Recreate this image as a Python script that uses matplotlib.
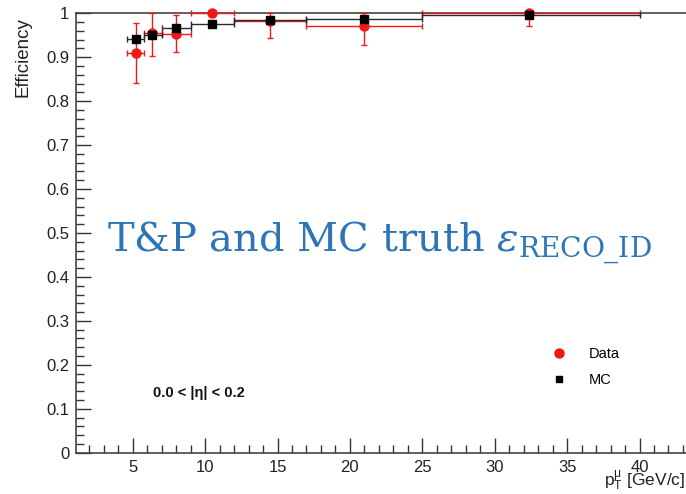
import numpy as np
import matplotlib
matplotlib.use("Agg")
import matplotlib.pyplot as plt
from matplotlib.lines import Line2D
from matplotlib.ticker import MultipleLocator, FormatStrFormatter

plt.rcParams['font.family'] = ['Liberation Sans', 'DejaVu Sans']

# measured efficiency vs muon pT
pt = [5.2, 6.35, 8.0, 10.5, 14.5, 21.0, 32.4]
bin_lo = [4.6, 5.8, 7.0, 9.0, 12.0, 17.0, 25.0]
bin_hi = [5.8, 7.0, 9.0, 12.0, 17.0, 25.0, 40.0]

data_eff = [0.909, 0.955, 0.954, 1.0, 0.982, 0.971, 1.0]
data_err_lo = [0.067, 0.052, 0.041, 0.0, 0.039, 0.043, 0.030]
data_err_hi = [0.068, 0.045, 0.041, 0.0, 0.018, 0.029, 0.0]

mc_eff = [0.941, 0.951, 0.967, 0.976, 0.985, 0.988, 0.995]
mc_err = [0.004, 0.004, 0.003, 0.003, 0.003, 0.003, 0.003]

x_ticks = [5, 10, 15, 20, 25, 30, 35, 40]

RED = '#f01818'

pt = np.array(pt)
xerr = [pt - np.array(bin_lo), np.array(bin_hi) - pt]

fig = plt.figure(figsize=(6.86, 4.94), dpi=100)
x_lo, x_hi = 1.1, 45.0
px_per_unit = 14.48
left_px = 60.3 + x_lo * px_per_unit
right_px = 60.3 + x_hi * px_per_unit
ax = fig.add_axes([left_px / 686, 0.0836, (right_px - left_px) / 686, 0.9731 - 0.0836])

def no_clip(container):
    for part in container.lines:
        if part is None:
            continue
        if isinstance(part, tuple):
            for p in part:
                p.set_clip_on(False)
        else:
            part.set_clip_on(False)

d = ax.errorbar(pt, data_eff, xerr=xerr, yerr=[data_err_lo, data_err_hi],
                fmt='o', color=RED, ms=6.5, elinewidth=1.0, capsize=2.5,
                capthick=1.0, zorder=3)
no_clip(d)
m = ax.errorbar(pt, mc_eff, xerr=xerr, yerr=mc_err,
                fmt='s', color='black', ecolor='#2a2a2a', ms=5.5, elinewidth=1.0,
                capsize=2.5, capthick=1.0, zorder=4)
no_clip(m)

ax.set_xlim(x_lo, x_hi)
ax.set_ylim(0, 1)
ax.set_xticks(x_ticks)
ax.xaxis.set_minor_locator(MultipleLocator(1))
ax.yaxis.set_major_locator(MultipleLocator(0.1))
ax.yaxis.set_minor_locator(MultipleLocator(0.02))
ax.yaxis.set_major_formatter(FormatStrFormatter('%g'))
ax.tick_params(which='both', direction='in', colors='#333333', labelcolor='#222222',
               width=1.0, labelsize=12)
ax.tick_params(which='major', length=11)
ax.tick_params(which='minor', length=6)
ax.tick_params(axis='x', pad=5.5)
ax.tick_params(axis='y', pad=5)
ax.spines['right'].set_visible(False)
for s in ['left', 'bottom', 'top']:
    ax.spines[s].set_color('#444444')
    ax.spines[s].set_linewidth(1.2)

fig.text(23 / 686, 1 - 17 / 494, 'Efficiency', rotation=90, ha='center', va='top',
         fontsize=13.5, color='#222222')
fig.text(685 / 686, 1 - 493 / 494, r'p$\mathregular{_T^μ}$ [GeV/c]', ha='right',
         va='bottom', fontsize=12.5, color='#222222')

handles = [Line2D([], [], ls='none', marker='o', ms=6.5, color=RED),
           Line2D([], [], ls='none', marker='s', ms=5, color='black')]
ax.legend(handles, ['Data', 'MC'], loc='upper left',
          bbox_to_anchor=(552 / 686, 1 - 347 / 494),
          bbox_transform=fig.transFigure, frameon=False, fontsize=10.5,
          handlelength=1.0, handletextpad=1.5, labelspacing=0.85, borderpad=0,
          borderaxespad=0)

fig.text(153 / 686, 1 - 393 / 494, r'0.0 < |η| < 0.2', ha='left', va='center',
         fontsize=10.5, fontweight='bold', color='#111111')

fig.text(107 / 686, 1 - 252 / 494, r'T&P and MC truth $\varepsilon_{\mathrm{RECO\_ID}}$',
         ha='left', va='baseline', fontsize=28.8, color='#2e75b6',
         family='DejaVu Serif', math_fontfamily='dejavuserif')

fig.savefig('out.png', dpi=100)
